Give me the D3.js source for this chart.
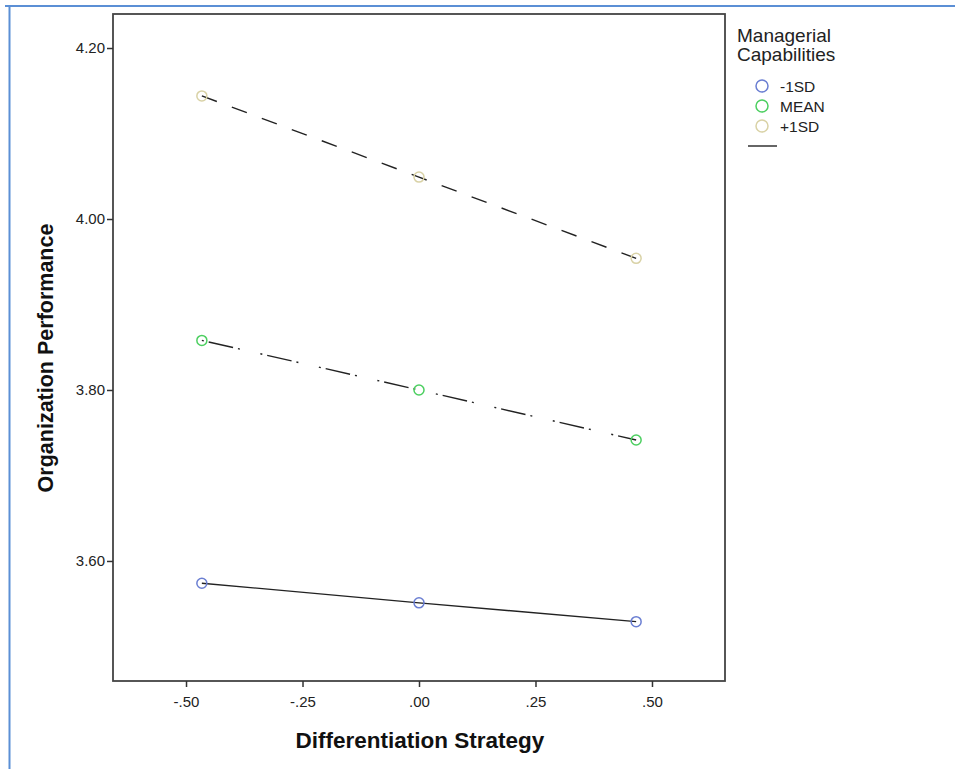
<!DOCTYPE html>
<html><head><meta charset="utf-8">
<script src="https://cdn.jsdelivr.net/npm/d3@7"></script>
<style>body{margin:0;background:#fff;} svg{display:block;}</style>
</head><body>
<svg id="c" width="955" height="769"></svg>
<script>
const xVals = [-0.466, 0.0, 0.466];
const groups = ["-1SD", "MEAN", "+1SD"];
const seriesLow = [3.574, 3.551, 3.529];
const seriesMean = [3.858, 3.800, 3.7415];
const seriesHigh = [4.144, 4.049, 3.954];
const xTicks = [-0.5, -0.25, 0, 0.25, 0.5];
const xTickLabels = ["-.50", "-.25", ".00", ".25", ".50"];
const yTicks = [3.6, 3.8, 4.0, 4.2];
const yTickLabels = ["3.60", "3.80", "4.00", "4.20"];
const colors = ["#6a7ed2", "#4ccf60", "#d9d2a6"];
const dashes = [null, "2,5,25,5,2,21", "16,16"];
const series = [seriesLow, seriesMean, seriesHigh];

const svg = d3.select("#c");
const L = 113, R = 725, T = 14, B = 681;
const x = d3.scaleLinear().domain([-0.6567, 0.6567]).range([L, R]);
const y = d3.scaleLinear().domain([3.4596, 4.2398]).range([B, T]);
const font = "'Liberation Sans', Arial, sans-serif";

// outer blue border
svg.append("line").attr("x1",5).attr("x2",955).attr("y1",6).attr("y2",6).attr("stroke","#5b8fd5").attr("stroke-width",2);
svg.append("line").attr("x1",9.5).attr("x2",9.5).attr("y1",5).attr("y2",769).attr("stroke","#5b8fd5").attr("stroke-width",2);

// frame
svg.append("rect").attr("x",L).attr("y",T).attr("width",R-L).attr("height",B-T)
  .attr("fill","none").attr("stroke","#444").attr("stroke-width",1.8);

// axes
const xAxis = d3.axisBottom(x).tickValues(xTicks).tickSize(6).tickSizeOuter(0)
  .tickFormat((d,i)=>xTickLabels[i]);
const gx = svg.append("g").attr("transform",`translate(0,${B})`).call(xAxis);
gx.select(".domain").remove();
gx.selectAll("line").attr("stroke","#333").attr("stroke-width",1.5);
gx.selectAll("text").attr("font-family",font).attr("font-size",15).attr("fill","#222").attr("y",15).attr("dy","0.71em");

const yAxis = d3.axisLeft(y).tickValues(yTicks).tickSize(6).tickSizeOuter(0)
  .tickFormat((d,i)=>yTickLabels[i]);
const gy = svg.append("g").attr("transform",`translate(${L},0)`).call(yAxis);
gy.select(".domain").remove();
gy.selectAll("line").attr("stroke","#333").attr("stroke-width",1.5);
gy.selectAll("text").attr("font-family",font).attr("font-size",15).attr("fill","#222").attr("x",-8);

// titles
svg.append("text").attr("x",420).attr("y",748).attr("text-anchor","middle")
  .attr("font-family",font).attr("font-weight","bold").attr("font-size",22.5).attr("fill","#111")
  .text("Differentiation Strategy");
svg.append("text").attr("transform","translate(53,358) rotate(-90)").attr("text-anchor","middle")
  .attr("font-family",font).attr("font-weight","bold").attr("font-size",21.5).attr("fill","#111")
  .text("Organization Performance");

// lines
const line = d3.line().x((d,i)=>x(xVals[i])).y(d=>y(d));
series.forEach((s,k)=>{
  svg.append("path").datum(s).attr("d",line).attr("fill","none")
    .attr("stroke","#222").attr("stroke-width",1.4)
    .attr("stroke-dasharray",dashes[k]);
});
series.forEach((s,k)=>{
  svg.selectAll(null).data(s).enter().append("circle")
    .attr("cx",(d,i)=>x(xVals[i])).attr("cy",d=>y(d)).attr("r",5)
    .attr("fill","none").attr("stroke",colors[k]).attr("stroke-width",1.5);
});

// legend
svg.append("text").attr("x",737).attr("y",42).attr("font-family",font).attr("font-size",19).attr("fill","#222").text("Managerial");
svg.append("text").attr("x",737).attr("y",61).attr("font-family",font).attr("font-size",19).attr("fill","#222").text("Capabilities");
groups.forEach((g,k)=>{
  const yy = 86 + k*20;
  svg.append("circle").attr("cx",762).attr("cy",yy).attr("r",6).attr("fill","none").attr("stroke",colors[k]).attr("stroke-width",1.5);
  svg.append("text").attr("x",780).attr("y",yy+5.5).attr("font-family",font).attr("font-size",15.5).attr("fill","#222").text(g);
});
svg.append("line").attr("x1",748).attr("x2",777).attr("y1",146).attr("y2",146).attr("stroke","#333").attr("stroke-width",1.5);
</script>
</body></html>
